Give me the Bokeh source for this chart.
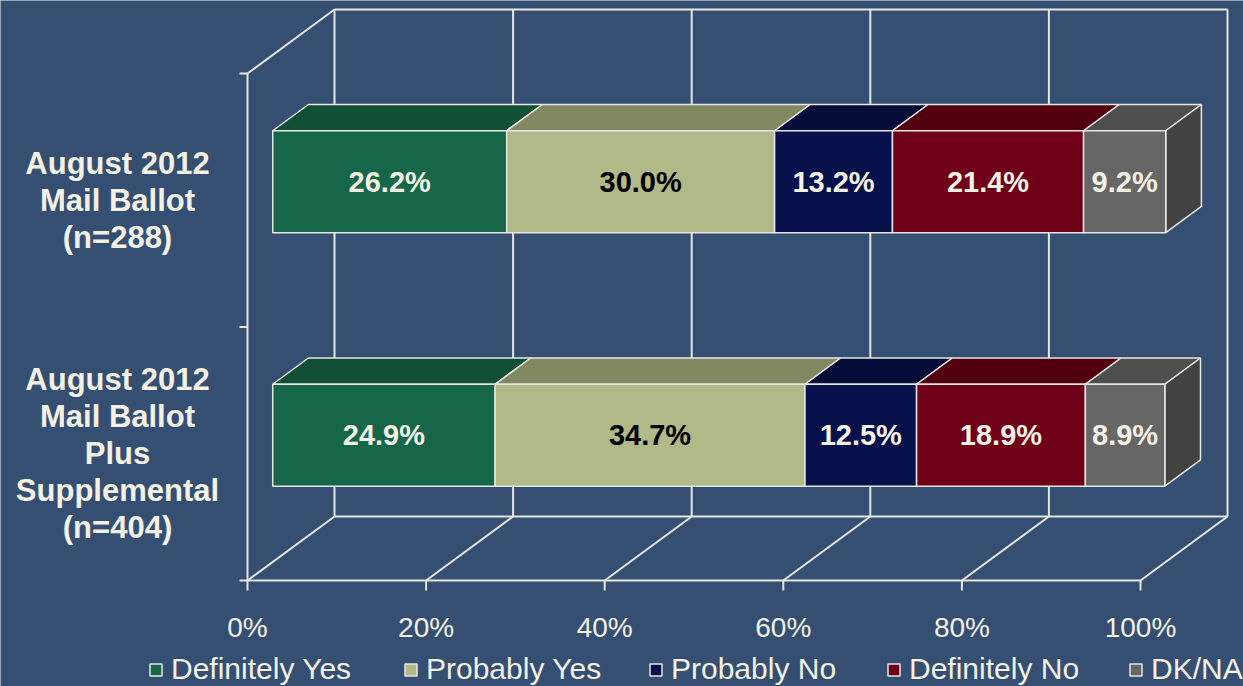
import numpy as np
from bokeh.plotting import figure
from bokeh.models import Range1d, Legend, LegendItem, ColumnDataSource
from bokeh.embed import file_html
from bokeh.resources import INLINE
from bokeh.core.properties import value

# ---------------- data ----------------
categories = ["August 2012\nMail Ballot\n(n=288)",
              "August 2012\nMail Ballot\nPlus\nSupplemental\n(n=404)"]
series_names = ["Definitely Yes", "Probably Yes", "Probably No", "Definitely No", "DK/NA"]
definitely_yes = [26.2, 24.9]
probably_yes = [30.0, 34.7]
probably_no = [13.2, 12.5]
definitely_no = [21.4, 18.9]
dk_na = [9.2, 8.9]
x_ticks = [0, 20, 40, 60, 80, 100]
x_tick_labels = ["0%", "20%", "40%", "60%", "80%", "100%"]

series_values = [definitely_yes, probably_yes, probably_no, definitely_no, dk_na]

# ---------------- style ----------------
BG = "#354f73"
LINE = "#e6e6e2"
TXT = "#f3f1e4"
front_colors = ["#16664a", "#b0b987", "#08104c", "#6e0018", "#666666"]
top_colors = ["#104e36", "#828962", "#060c38", "#520010", "#4e4e4e"]
side_color = "#424242"
label_colors = [TXT, "#000000", TXT, TXT, TXT]
FONT = value("Liberation Sans")

W, H = 1243, 686
PX_PER_PCT = 8.93
X0_PX = 247.0
Y0_PX = 580.0
PX_PER_BAND = 253.5
DX = 87.0 / PX_PER_PCT
DY = 64.0 / PX_PER_BAND
FD, BD = 0.29, 0.70      # bar front / back depth fraction
HH = 0.201               # bar half height (band units)
n_cat = len(categories)

p = figure(width=W, height=H,
           x_range=Range1d(-X0_PX / PX_PER_PCT, (W - X0_PX) / PX_PER_PCT),
           y_range=Range1d(-(H - Y0_PX) / PX_PER_BAND, Y0_PX / PX_PER_BAND),
           toolbar_location=None, output_backend="svg",
           x_axis_location=None, y_axis_location=None,
           min_border=0, background_fill_color=BG, border_fill_color=BG,
           outline_line_color=None)
p.grid.visible = False

# ---------------- walls / floor ----------------
x0s, y0s, x1s, y1s = [], [], [], []
top = n_cat
for t in x_ticks:
    # back wall verticals
    x0s += [t + DX]; y0s += [DY]; x1s += [t + DX]; y1s += [top + DY]
    # floor diagonals
    x0s += [t]; y0s += [0]; x1s += [t + DX]; y1s += [DY]
    # tick marks
    x0s += [t]; y0s += [0]; x1s += [t]; y1s += [-10.0 / PX_PER_BAND]
# back top, back floor, front floor, left front axis, top-left diagonal
x0s += [DX, DX, 0, 0, 0]
y0s += [top + DY, DY, 0, 0, top]
x1s += [x_ticks[-1] + DX, x_ticks[-1] + DX, x_ticks[-1], 0, DX]
y1s += [top + DY, DY, 0, top, top + DY]
for k in range(n_cat + 1):
    x0s += [-8.0 / PX_PER_PCT]; y0s += [k]; x1s += [0]; y1s += [k]
p.segment(x0s, y0s, x1s, y1s, line_color=LINE, line_width=2)

# ---------------- bars ----------------
yc = [n_cat - i - 0.5 for i in range(n_cat)]
cum = np.zeros(n_cat)
front_renderers = []
lab_x, lab_y, lab_t, lab_c = [], [], [], []
for j, vals in enumerate(series_values):
    vals = np.array(vals)
    l = cum.copy()
    r = cum + vals
    cum = r
    # top face
    txs, tys = [], []
    for i in range(n_cat):
        yt_f = yc[i] + HH + FD * DY
        yt_b = yc[i] + HH + BD * DY
        txs.append([l[i] + FD * DX, r[i] + FD * DX, r[i] + BD * DX, l[i] + BD * DX])
        tys.append([yt_f, yt_f, yt_b, yt_b])
    p.patches(txs, tys, fill_color=top_colors[j], line_color=LINE, line_width=1.5)
    if j == len(series_values) - 1:
        sxs, sys_ = [], []
        for i in range(n_cat):
            sxs.append([r[i] + FD * DX, r[i] + BD * DX, r[i] + BD * DX, r[i] + FD * DX])
            sys_.append([yc[i] - HH + FD * DY, yc[i] - HH + BD * DY,
                         yc[i] + HH + BD * DY, yc[i] + HH + FD * DY])
        p.patches(sxs, sys_, fill_color=side_color, line_color=LINE, line_width=1.5)
    src = ColumnDataSource(dict(
        left=l + FD * DX, right=r + FD * DX,
        bottom=[y - HH + FD * DY for y in yc], top=[y + HH + FD * DY for y in yc]))
    fr = p.quad(left="left", right="right", bottom="bottom", top="top", source=src,
                fill_color=front_colors[j], line_color=LINE, line_width=1.5)
    front_renderers.append(fr)
    for i in range(n_cat):
        lab_x.append((l[i] + r[i]) / 2 + FD * DX)
        lab_y.append(yc[i] + FD * DY)
        lab_t.append(f"{vals[i]:.1f}%")
        lab_c.append(label_colors[j])

p.text(lab_x, lab_y, text=lab_t, text_color=lab_c, text_font=FONT,
       text_font_style="bold", text_font_size="29px",
       text_align="center", text_baseline="middle")

# category labels
p.text([-130.0 / PX_PER_PCT] * n_cat, yc, text=categories, text_color=TXT,
       text_font=FONT, text_font_style="bold", text_font_size="31px",
       text_align="center", text_baseline="middle", text_line_height=1.06)

# x tick labels
p.text(x_ticks, [-47.0 / PX_PER_BAND] * len(x_ticks), text=x_tick_labels,
       text_color=TXT, text_font=FONT, text_font_size="28px",
       text_align="center", text_baseline="middle")

# ---------------- legend ----------------
legend_x_px = [148, 403, 648, 886, 1128]
for j, name in enumerate(series_names):
    lg = Legend(items=[LegendItem(label=name, renderers=[front_renderers[j]])],
                location=(legend_x_px[j], 0), orientation="horizontal",
                padding=0, margin=0, spacing=0,
                glyph_width=15, glyph_height=15, label_standoff=8,
                label_text_font="Liberation Sans", label_text_font_size="30px",
                label_text_color=TXT, background_fill_alpha=0,
                border_line_alpha=0)
    p.add_layout(lg, "center")

open("out.html", "w").write(file_html(p, INLINE))
